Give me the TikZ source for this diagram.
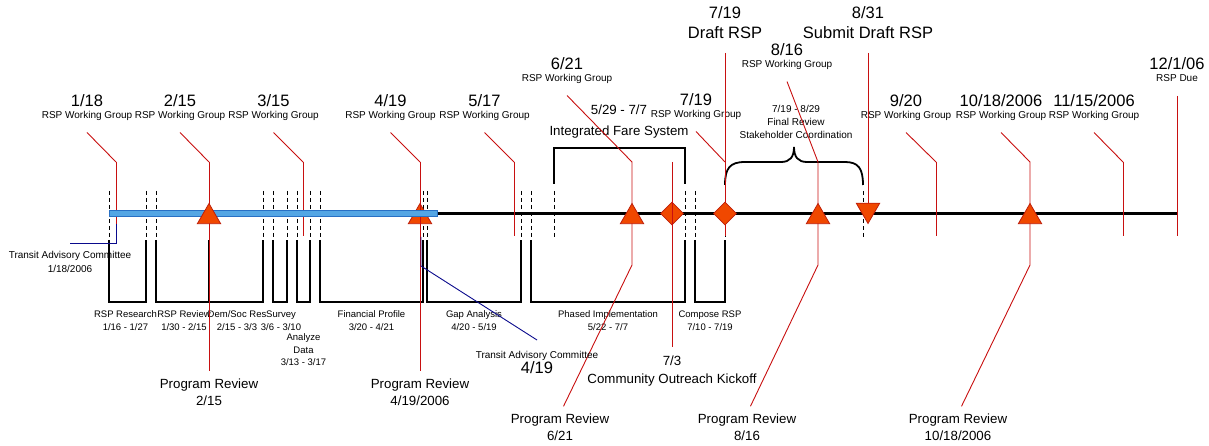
\documentclass[tikz,border=0pt]{standalone}
\usepackage{fontspec}
\setmainfont{Liberation Sans}
\usetikzlibrary{shapes.geometric}

\definecolor{wgred}{RGB}{200,16,16}
\definecolor{msfill}{RGB}{240,72,0}
\definecolor{msedge}{RGB}{190,30,10}
\definecolor{barblue}{RGB}{84,166,228}
\definecolor{baredge}{RGB}{40,112,196}
\definecolor{tacblue}{RGB}{10,10,140}

\tikzset{every picture/.style={line width=0.75pt}}
\tikzset{
  datetxt/.style={font=\fontsize{16.5}{20}\selectfont, inner sep=0pt},
  bigtxt/.style={datetxt, align=center, anchor=north},
  smalltxt/.style={font=\fontsize{10}{13}\selectfont, inner sep=0pt, align=center},
  tasktxt/.style={font=\fontsize{9.5}{12.5}\selectfont, inner sep=0pt, align=center, anchor=north},
  midtxt/.style={font=\fontsize{13.3}{18}\selectfont, inner sep=0pt, align=center},
  prtxt/.style={font=\fontsize{13.3}{16.5}\selectfont, inner sep=0pt, align=center, anchor=north},
  wgline/.style={draw=wgred, line width=0.9pt},
  tacline/.style={draw=tacblue, line width=0.9pt},
  guide/.style={line width=0.8pt, dash pattern=on 4pt off 3pt},
  bracket/.style={line width=1.8pt},
  uptri/.style={regular polygon, regular polygon sides=3, minimum size=27pt, inner sep=0pt, fill=msfill, draw=msedge, line width=0.8pt},
  downtri/.style={uptri, shape border rotate=180},
  msdia/.style={diamond, minimum width=23pt, minimum height=23pt, inner sep=0pt, fill=msfill, draw=msedge, line width=0.8pt},
}

\begin{document}
\begin{tikzpicture}[x=1pt, y=-1pt]
    \useasboundingbox (0,0) rectangle (1209,446);
    % task brackets under the time line
    \foreach \x in {109,146,156,209,263,273,287,297,310,320,423,427,521,531,554,685,695,725,863}
        \draw[guide] (\x,191) -- (\x,237);
    \foreach \a/\b in {109/146,156/209,209/263,273/287,297/310,320/423,427/521,531/685,695/725}
        \draw[bracket] (\a,240) |- (\b,302) -- (\b,240);
    \foreach \n/\x/\t in {res/125.5/{RSP Research\\1/16 - 1/27}, rev/184/{RSP Review\\1/30 - 2/15},
        dem/237/{Dem/Soc Res\\2/15 - 3/3}, sur/281/{Survey\\3/6 - 3/10}, fin/371.5/{Financial Profile\\3/20 - 4/21},
        gap/474/{Gap Analysis\\4/20 - 5/19}, pha/608/{Phased Implementation\\5/22 - 7/7}, com/710/{Compose RSP\\7/10 - 7/19}}
        \node[tasktxt] (task\n) at (\x,310.7) {\t};
    \node[tasktxt] (taskana) at (303.5,333.7) {Analyze\\Data\\3/13 - 3/17};

    % brackets above the line
    \draw[bracket] (554,184) |- (685,148) -- (685,184);
    \node[midtxt, anchor=base] (ifsd) at (619,115) {5/29 - 7/7};
    \node[midtxt, anchor=base] (ifs) at (619,136) {Integrated Fare System};
    \draw[bracket] (725,185) .. controls (725,168) and (730,162) .. (745,162) -- (781,162)
        .. controls (790,162) and (794,157) .. (794,147) .. controls (794,157) and (798,162) .. (807,162)
        -- (845,162) .. controls (858,162) and (863,168) .. (863,185);
    \node[smalltxt, anchor=north] (finrev) at (796,104.7) {7/19 - 8/29\\Final Review\\Stakeholder Coordination};

    % time line
    \coordinate (tStart) at (109,213.5);
    \coordinate (tEnd) at (1177,213.5);
    \draw[line width=3.5pt] (tStart) -- (tEnd);
    \node[uptri] (ms419) at (420,217) {};
    \node[msdia] (ms703) at (672,213.5) {};

    % working group call-outs
    \foreach \n/\lx/\B/\mx/\dt in {a/87/107/116/{1/18}, b/180/107/209/{2/15}, c/273.5/107/303/{3/15},
        d/390.5/107/420/{4/19}, e/484.5/107/514/{5/17}, f/567/70/632/{6/21}, g/696/106/725/{7/19},
        h/787/56/818/{8/16}, i/906/107/936/{9/20}, j/1001/107/1030/{10/18/2006}, k/1094/107/1123/{11/15/2006}}
    {
        \node[datetxt, anchor=base] (wd\n) at (\lx,\B) {\dt};
        \node[smalltxt, anchor=base] (wg\n) at (\lx,\B+11.5) {RSP Working Group};
        \coordinate (el\n) at (\mx,162);
        \draw[wgline] ([yshift=-14pt]wg\n.base) -- (el\n);
    }
    \foreach \n in {a,c,e,i,k}
        \draw[wgline] (el\n) -- ++(0,74);

    % program reviews
    \node[prtxt] (pr215) at (209,378.5) {Program Review\\2/15};
    \node[prtxt] (pr419) at (420,378.5) {Program Review\\4/19/2006};
    \node[prtxt] (pr621) at (560,413.5) {Program Review\\6/21};
    \node[prtxt] (pr816) at (747,413.5) {Program Review\\8/16};
    \node[prtxt] (pr1018) at (958,413.5) {Program Review\\10/18/2006};
    \coordinate (kf) at (632,265);
    \coordinate (kh) at (818,265);
    \coordinate (kj) at (1030,265);
    \draw[wgline, shorten >=8pt] (elb) -- (pr215.north);
    \draw[wgline, shorten >=8pt] (eld) -- (pr419.north);
    \draw[wgline, shorten >=8pt] (elf) -- (kf) -- (pr621.north);
    \draw[wgline, shorten >=8pt] (elh) -- (kh) -- (pr816.north);
    \draw[wgline, shorten >=8pt] (elj) -- (kj) -- (pr1018.north);

    % community outreach
    \coordinate (el703) at (672,162);
    \node[midtxt, anchor=north] (kick) at (672,355.3) {7/3\\Community Outreach Kickoff};
    \draw[wgline, shorten >=8pt] (el703) -- (kick.north);

    % draft, submit, due
    \node[bigtxt] (draft) at (725,6) {7/19\\Draft RSP};
    \node[bigtxt] (submit) at (868,6) {8/31\\Submit Draft RSP};
    \coordinate (b719) at (725,236);
    \coordinate (c831) at (868,210);
    \draw[wgline, shorten <=14pt] (draft.south) -- (b719);
    \draw[wgline, shorten <=14pt] (submit.south) -- (c831);
    \node[datetxt, anchor=base] (due) at (1177,70) {12/1/06};
    \node[smalltxt, anchor=base] (dueg) at (1177,82) {RSP Due};
    \draw[wgline] ([yshift=-14pt]dueg.base) -- ++(0,140);

    % completed span
    \draw[fill=barblue, draw=baredge, line width=0.6pt] (109,210.5) rectangle (437,216.5);

    \node[uptri] (ms215) at (209,217) {};
    \node[uptri] (ms621) at (632,217) {};
    \node[uptri] (ms816) at (818,217) {};
    \node[uptri] (ms1018) at (1030,217) {};
    \node[msdia] (ms719) at (725,213.5) {};
    \node[downtri] (ms831) at (c831) {};

    % transit advisory committee
    \node[smalltxt, anchor=north] (tac118) at (70,250.8) {Transit Advisory Committee\\[1pt]1/18/2006};
    \coordinate (t118) at (116,224);
    \coordinate (k118) at (70,243);
    \draw[tacline] (t118) |- (k118);
    \node[smalltxt, anchor=base] (tac419) at (537,358) {Transit Advisory Committee};
    \node[datetxt, anchor=base] (tac419d) at (537,373) {4/19};
    \coordinate (t419) at (421,237);
    \coordinate (k419) at (537,340);
    \draw[tacline] (t419) -- ++(0,29) -- (k419);
\end{tikzpicture}
\end{document}
